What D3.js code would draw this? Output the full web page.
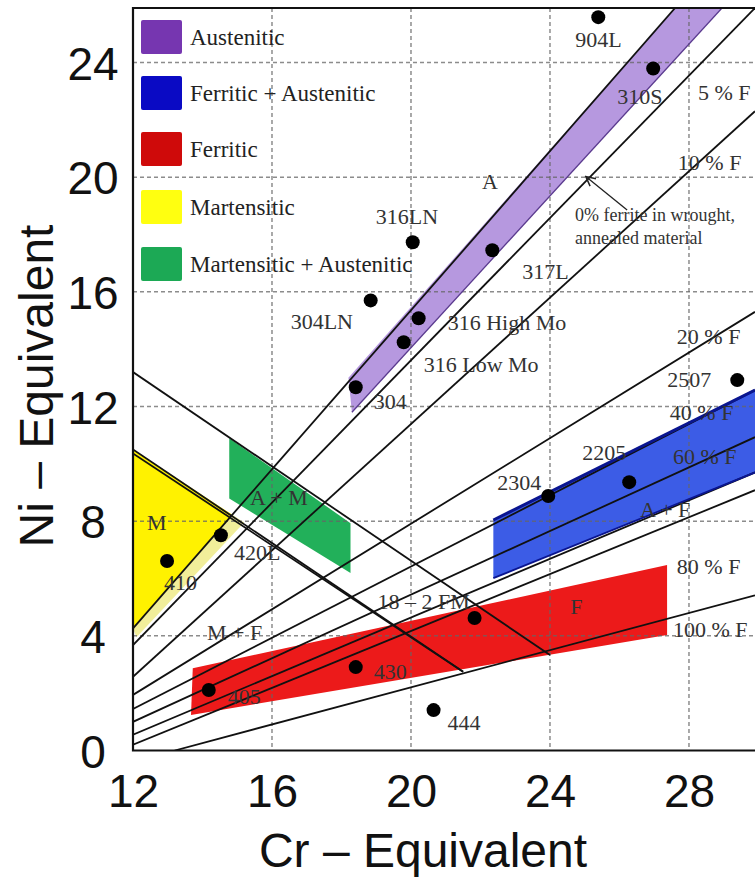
<!DOCTYPE html>
<html>
<head>
<meta charset="utf-8">
<script src="https://cdn.jsdelivr.net/npm/d3@7/dist/d3.min.js"></script>
<style>
  body { margin: 0; background: #fff; }
</style>
</head>
<body>
<svg id="chart" width="755" height="878" font-family="Liberation Serif, DejaVu Serif, serif"></svg>
<script>
// axis ticks
const xTicks = [12, 16, 20, 24, 28]
const yTicks = [0, 4, 8, 12, 16, 20, 24]

// phase regions (Cr eq, Ni eq)
const austeniticBand = [[18.2, 13.0], [27.6, 25.9], [28.95, 25.9], [18.3, 11.8]]
const duplexBand = [[22.37, 8.04], [29.9, 12.57], [29.9, 9.7], [22.37, 6.01]]
const ferriticBand = [[13.72, 2.87], [27.37, 6.47], [27.37, 4.03], [13.67, 1.24]]
const martensiticTri = [[12, 10.5], [14.86, 8.22], [12, 4.26]]
const martStrip = [[12, 4.26], [14.86, 8.22], [15.2, 7.95], [12.1, 3.95]]
const marAustBand = [[14.77, 10.89], [18.26, 7.93], [18.26, 6.19], [14.77, 8.79]]

// iso-ferrite lines (rising) and martensite boundaries (falling)
const ferriteLines = [
    [[12, 4.26], [27.6, 25.9]],
    [[12, 3.68], [29.9, 25.9]],
    [[12, 2.57], [29.9, 22.3]],
    [[12, 1.94], [29.9, 15.3]],
    [[12, 1.45], [29.9, 12.57]],
    [[12, 1.0], [29.9, 10.93]],
    [[12, 0.55], [29.9, 9.7]],
    [[12, 0.2], [29.9, 9.08]],
    [[13.2, 0], [29.9, 5.41]]
]
const martLines = [
    [[12, 13.2], [24, 3.33]],
    [[12, 10.5], [21.5, 2.75]],
    [[12, 10.36], [21.5, 2.75]]
]
const purpleEdge = [[18.3, 11.8], [28.95, 25.9]]
const blueEdges = [
    [[22.37, 8.04], [29.9, 12.57]],
    [[22.37, 6.01], [29.9, 9.7]]
]

// steel grades
const grades = ['904L', '310S', '316LN', '317L', '304LN', '316 High Mo', '316 Low Mo', '304',
    '2507', '2205', '2304', '420L', '410', '405', '430', '444', '18 \u2013 2 FM']
const gradeCr = [25.39, 26.97, 20.05, 22.34, 18.84, 20.22, 19.79, 18.41,
    29.39, 26.28, 23.95, 14.53, 12.98, 14.18, 18.41, 20.65, 21.83]
const gradeNi = [25.58, 23.79, 17.73, 17.45, 15.7, 15.08, 14.24, 12.67,
    12.92, 9.36, 8.88, 7.51, 6.61, 2.11, 2.91, 1.41, 4.62]
// label offsets from dot (px)
const gradeOffsets = [[-23, 30], [-36, 36], [-37, -18], [30, 29], [-80, 29], [29, 12], [20, 30], [18, 22],
    [-70, 7], [-47, -22], [-51, -6], [13, 25], [-3, 29], [19, 14], [18, 12], [14, 20], [-97, -9]]

const ferriteLabels = ['5 % F', '10 % F', '20 % F', '40 % F', '60 % F', '80 % F', '100 % F']
const ferriteLabelPos = [[28.26, 22.68], [27.68, 20.24], [27.65, 14.18], [27.45, 11.53], [27.54, 10.0], [27.65, 6.16], [27.54, 3.96]]

const phaseLabels = ['A', 'A + M', 'M', 'M + F', 'A + F', 'F']
const phaseLabelPos = [[22.04, 19.58], [15.37, 8.56], [12.4, 7.69], [14.13, 3.85], [26.59, 8.14], [24.58, 4.76]]

const legendNames = ['Austenitic', 'Ferritic + Austenitic', 'Ferritic', 'Martensitic', 'Martensitic + Austenitic']
const legendColors = ['#7636b0', '#0a0ac4', '#cf0a0a', '#ffff10', '#1ca955']

const svg = d3.select('#chart')
const x = d3.scaleLinear().domain([12, 29.9]).range([133, 755])
const y = d3.scaleLinear().domain([0, 25.9]).range([750.5, 8])
const line = d3.line().x(d => x(d[0])).y(d => y(d[1]))
const poly = pts => line(pts) + 'Z'

svg.append('clipPath').attr('id', 'plot')
    .append('rect').attr('x', 133).attr('y', 8).attr('width', 622).attr('height', 742.5)

const plot = svg.append('g').attr('clip-path', 'url(#plot)')

// regions
plot.append('path').attr('d', poly(martStrip)).attr('fill', '#f1ee9a')
plot.append('path').attr('d', poly(martensiticTri)).attr('fill', '#fff200')
plot.append('path').attr('d', poly(marAustBand)).attr('fill', '#22b05a')
plot.append('path').attr('d', poly(austeniticBand)).attr('fill', '#b698df')
plot.append('path').attr('d', poly(duplexBand)).attr('fill', '#3c5ce6')
plot.append('path').attr('d', poly(ferriticBand)).attr('fill', '#ec1a1a')

// dashed grid
plot.selectAll('.gx').data(xTicks.slice(1)).join('line')
    .attr('x1', d => x(d)).attr('x2', d => x(d)).attr('y1', 8).attr('y2', 750.5)
    .attr('stroke', '#666').attr('stroke-opacity', 0.75).attr('stroke-width', 1.5).attr('stroke-dasharray', '4,3')
plot.selectAll('.gy').data(yTicks.slice(1)).join('line')
    .attr('y1', d => y(d)).attr('y2', d => y(d)).attr('x1', 133).attr('x2', 755)
    .attr('stroke', '#666').attr('stroke-opacity', 0.75).attr('stroke-width', 1.5).attr('stroke-dasharray', '4,3')

// lines
plot.selectAll('.fl').data(ferriteLines.concat(martLines)).join('path')
    .attr('d', line).attr('fill', 'none').attr('stroke', '#111').attr('stroke-width', 1.8)
plot.append('path').attr('d', line(purpleEdge)).attr('stroke', '#5a3a8e').attr('stroke-width', 1.3).attr('fill', 'none')
plot.selectAll('.be').data(blueEdges).join('path')
    .attr('d', line).attr('fill', 'none').attr('stroke', '#0a1590').attr('stroke-width', (d, i) => i ? 1.8 : 3)

// arrow to 0% ferrite
svg.append('defs').append('marker').attr('id', 'arr')
    .attr('viewBox', '0 0 10 10').attr('refX', 9).attr('refY', 5)
    .attr('markerWidth', 9).attr('markerHeight', 9).attr('orient', 'auto')
    .append('path').attr('d', 'M1,1L9,5L1,9').attr('fill', 'none').attr('stroke', '#222').attr('stroke-width', 1.3)
svg.append('path').attr('d', line([[26.22, 18.85], [25.03, 20.02]]))
    .attr('stroke', '#222').attr('stroke-width', 1.3).attr('marker-end', 'url(#arr)')
svg.append('text').attr('x', x(24.72)).attr('y', y(18.47)).attr('font-size', 18).attr('fill', '#333')
    .text('0% ferrite in wrought,')
svg.append('text').attr('x', x(24.72)).attr('y', y(17.66)).attr('font-size', 18).attr('fill', '#333')
    .text('annealed material')

// grade dots and labels
svg.selectAll('.dot').data(grades).join('circle')
    .attr('cx', (d, i) => x(gradeCr[i])).attr('cy', (d, i) => y(gradeNi[i]))
    .attr('r', 7).attr('fill', '#000')
svg.selectAll('.glab').data(grades).join('text')
    .attr('x', (d, i) => x(gradeCr[i]) + gradeOffsets[i][0])
    .attr('y', (d, i) => y(gradeNi[i]) + gradeOffsets[i][1])
    .attr('font-size', 22).attr('fill', '#333').text(d => d)

svg.selectAll('.flab').data(ferriteLabels).join('text')
    .attr('x', (d, i) => x(ferriteLabelPos[i][0])).attr('y', (d, i) => y(ferriteLabelPos[i][1]))
    .attr('font-size', 22).attr('fill', '#333').text(d => d)
svg.selectAll('.plab').data(phaseLabels).join('text')
    .attr('x', (d, i) => x(phaseLabelPos[i][0])).attr('y', (d, i) => y(phaseLabelPos[i][1]))
    .attr('font-size', 22).attr('fill', '#333').text(d => d)

// legend
const leg = svg.append('g')
const legTop = [20, 76, 132, 190, 247]
leg.selectAll('rect').data(legendNames).join('rect')
    .attr('x', 141).attr('y', (d, i) => legTop[i]).attr('width', 41).attr('height', 34).attr('rx', 2)
    .attr('fill', (d, i) => legendColors[i])
leg.selectAll('text').data(legendNames).join('text')
    .attr('x', 190).attr('y', (d, i) => legTop[i] + 25)
    .attr('font-size', 23).attr('fill', '#222').text(d => d)

// frame
svg.append('path').attr('d', `M755,8H133V750.5H755`).attr('fill', 'none').attr('stroke', '#111').attr('stroke-width', 2.2)

// axes
const axFont = 'Liberation Sans, Arial, sans-serif'
const gy = svg.append('g').attr('transform', 'translate(133,0)')
    .call(d3.axisLeft(y).tickValues(yTicks).tickSize(0))
gy.select('.domain').remove()
gy.selectAll('text').attr('x', -40).attr('y', 2).attr('text-anchor', 'middle')
    .attr('font-size', 46).attr('font-family', axFont).attr('fill', '#111')

const gx = svg.append('g').attr('transform', 'translate(0,750.5)')
    .call(d3.axisBottom(x).tickValues(xTicks).tickSize(0).tickPadding(24))
gx.select('.domain').remove()
gx.selectAll('text').attr('font-size', 46).attr('font-family', axFont).attr('fill', '#111')

svg.append('text').attr('x', 423).attr('y', 867).attr('text-anchor', 'middle')
    .attr('font-size', 48).attr('font-family', axFont).attr('fill', '#111').text('Cr \u2013 Equivalent')
svg.append('text').attr('transform', 'translate(53,386) rotate(-90)').attr('text-anchor', 'middle')
    .attr('font-size', 48).attr('font-family', axFont).attr('fill', '#111').text('Ni \u2013 Equivalent')
</script>
</body>
</html>
